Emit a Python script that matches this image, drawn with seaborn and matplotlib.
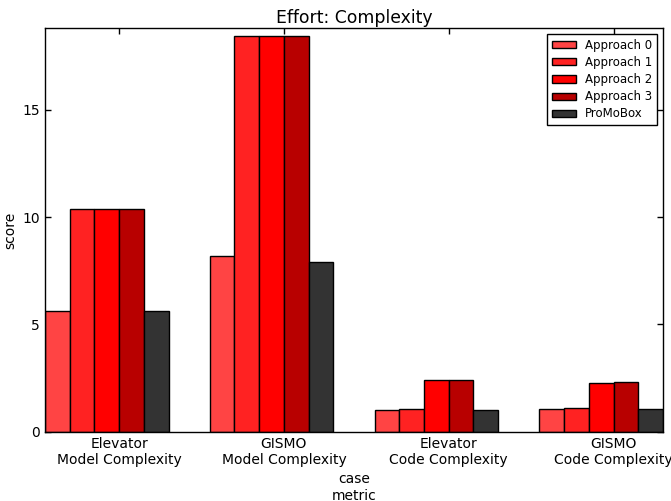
import numpy as np
import pandas as pd
import matplotlib
matplotlib.use("Agg")
import matplotlib.pyplot as plt
import seaborn as sns

# Scores per case/metric for each approach
cases = ["Elevator\nModel Complexity", "GISMO\nModel Complexity",
         "Elevator\nCode Complexity", "GISMO\nCode Complexity"]
approaches = ["Approach 0", "Approach 1", "Approach 2", "Approach 3", "ProMoBox"]
approach_0 = [5.64, 8.20, 1.01, 1.04]
approach_1 = [10.37, 18.42, 1.07, 1.10]
approach_2 = [10.37, 18.42, 2.39, 2.28]
approach_3 = [10.37, 18.42, 2.42, 2.33]
promobox = [5.64, 7.89, 1.01, 1.04]
colors = ["#ff4444", "#ff2222", "#ff0000", "#b80000", "#333333"]

series = [approach_0, approach_1, approach_2, approach_3, promobox]
df = pd.DataFrame({
    "case": np.tile(cases, len(approaches)),
    "approach": np.repeat(approaches, len(cases)),
    "score": np.concatenate(series),
})

sns.set_theme(style="white")
plt.rcParams.update({
    "font.family": ["DejaVu Sans"],
    "text.color": "black",
    "axes.labelcolor": "black",
    "xtick.color": "black",
    "ytick.color": "black",
    "xtick.direction": "in",
    "ytick.direction": "in",
    "xtick.top": True,
    "ytick.right": True,
    "xtick.bottom": True,
    "ytick.left": True,
    "xtick.major.size": 4,
    "ytick.major.size": 4,
    "axes.edgecolor": "black",
    "axes.linewidth": 1.0,
})

fig = plt.figure(figsize=(6.71, 5.01), dpi=100)
ax = fig.add_axes([0.067, 0.1383, 0.921, 0.8052])

sns.barplot(data=df, x="case", y="score", hue="approach", palette=colors,
            width=0.75, edgecolor="black", linewidth=1.0, saturation=1,
            errorbar=None, ax=ax)

# bars are laid out edge-aligned: shift each group left by half a bar
for p in ax.patches:
    p.set_x(p.get_x() - p.get_width() / 2)

ax.set_xlim(-0.45, 3.30)
ax.set_ylim(0, 18.8)
ax.set_yticks([0, 5, 10, 15])
ax.tick_params(axis="both", labelsize=10, colors="black", width=1)
ax.set_xlabel("case\nmetric", fontsize=10)
ax.set_ylabel("score", fontsize=10)
ax.set_title("Effort: Complexity", fontsize=12.4, pad=4)

leg = ax.legend(loc="upper right", fontsize=8.5, frameon=True, fancybox=False,
                edgecolor="black", framealpha=1, borderaxespad=0.5,
                handleheight=0.55, labelspacing=0.35, borderpad=0.4)
leg.get_frame().set_linewidth(1.0)

fig.savefig("out.png", dpi=100)
